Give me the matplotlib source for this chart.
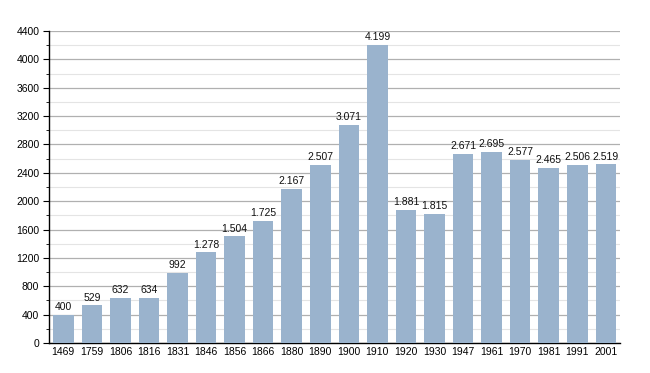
import matplotlib
matplotlib.use("Agg")
import matplotlib.pyplot as plt
from matplotlib.ticker import MultipleLocator

years = ["1469", "1759", "1806", "1816", "1831", "1846", "1856", "1866", "1880", "1890",
         "1900", "1910", "1920", "1930", "1947", "1961", "1970", "1981", "1991", "2001"]
population = [400, 529, 632, 634, 992, 1278, 1504, 1725, 2167, 2507,
              3071, 4199, 1881, 1815, 2671, 2695, 2577, 2465, 2506, 2519]
labels = ["400", "529", "632", "634", "992", "1.278", "1.504", "1.725", "2.167", "2.507",
          "3.071", "4.199", "1.881", "1.815", "2.671", "2.695", "2.577", "2.465", "2.506", "2.519"]

plt.rcParams['font.family'] = ['Liberation Sans', 'DejaVu Sans']

fig = plt.figure(figsize=(6.5, 3.73), dpi=100)
ax = fig.add_axes([0.0754, 0.0804, 0.954 - 0.0754, 0.917 - 0.0804])

x = range(len(years))
ax.bar(x, population, width=0.72, color="#9ab3cd", zorder=3)
for xi, v, lab in zip(x, population, labels):
    ax.text(xi, v + 40, lab, ha="center", va="bottom", fontsize=7.5, color="#111111", zorder=4)

ax.set_xlim(-0.5, len(years) - 0.5)
ax.set_ylim(0, 4400)
ax.yaxis.set_major_locator(MultipleLocator(400))
ax.yaxis.set_minor_locator(MultipleLocator(200))
ax.grid(which="major", axis="y", color="#b0b0b0", linewidth=0.9, zorder=0)
ax.grid(which="minor", axis="y", color="#e4e4e4", linewidth=0.8, zorder=0)
ax.set_xticks(list(x))
ax.set_xticklabels(years)
ax.tick_params(axis="x", length=0, labelsize=7.5, pad=3)
ax.tick_params(axis="y", which="major", length=4, labelsize=7.5, pad=3)
ax.tick_params(axis="y", which="minor", length=2)
for s in ["top", "right"]:
    ax.spines[s].set_visible(False)
ax.spines["left"].set_linewidth(1.0)
ax.spines["bottom"].set_linewidth(1.0)

fig.savefig("out.png", dpi=100)
